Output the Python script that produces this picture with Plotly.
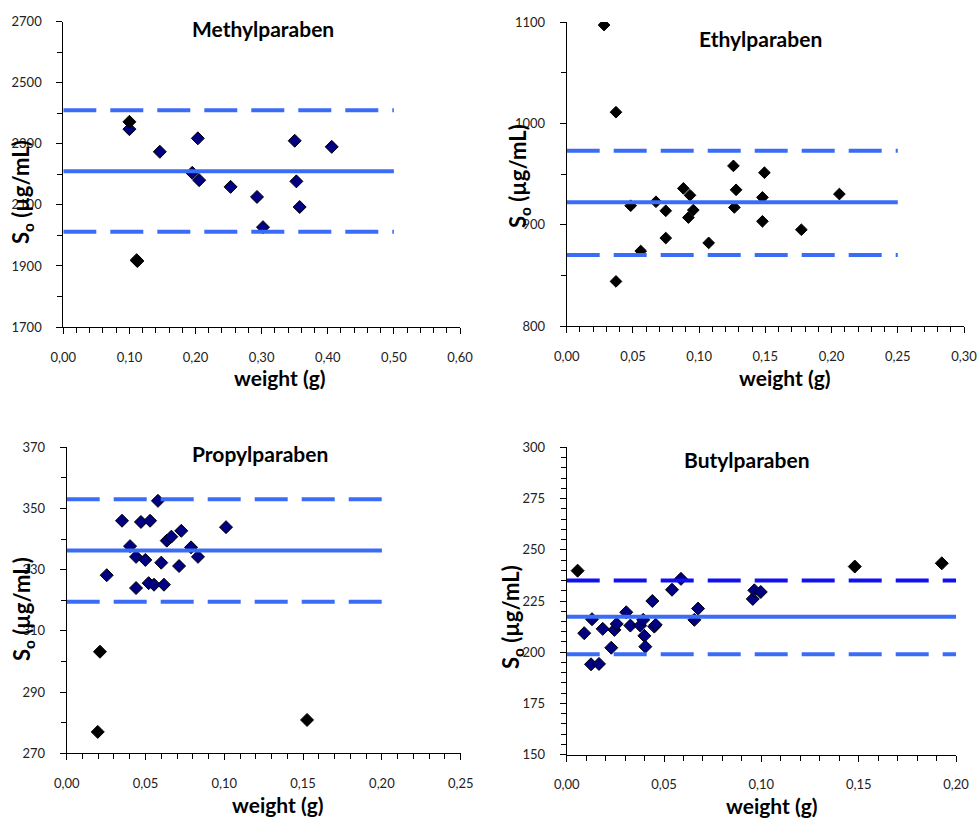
import plotly.graph_objects as go

W, H = 979, 818

# ---------------- data ----------------
# Methylparaben
methyl_x = [0.100, 0.146, 0.2035, 0.195, 0.2055, 0.253, 0.293, 0.302, 0.350, 0.3525, 0.3575, 0.406]
methyl_y = [2348, 2274, 2318, 2205, 2181, 2159, 2126, 2027, 2310, 2177, 2093, 2290]
methyl_out_x = [0.100, 0.111, 0.112]
methyl_out_y = [2372, 1919, 1916]
methyl_lines = [2410, 2210, 2012]      # upper limit, mean, lower limit
methyl_line_x = [0.0, 0.50]

# Ethylparaben
ethyl_x = [0.0282, 0.0372, 0.0372, 0.0483, 0.0559, 0.0674, 0.0748, 0.0748, 0.0881, 0.0931,
           0.0919, 0.0956, 0.1072, 0.1259, 0.1279, 0.1266, 0.1493, 0.1478, 0.1478, 0.1772, 0.2059]
ethyl_y = [1097, 1011, 844, 918.7, 874, 922.6, 913.7, 886.8, 935.8, 929,
           907, 914.4, 882, 958, 934.4, 917, 951.3, 926.9, 903.3, 895, 930.2]
ethyl_lines = [973, 922, 870]
ethyl_line_x = [0.0, 0.25]

# Propylparaben
propyl_x = [0.0254, 0.0351, 0.0402, 0.0440, 0.0440, 0.0471, 0.0499, 0.0529, 0.0520, 0.0554,
            0.0579, 0.0600, 0.0617, 0.0635, 0.0664, 0.0713, 0.0727, 0.0789, 0.0833, 0.1011]
propyl_y = [328.2, 346.0, 337.7, 334.2, 324.0, 345.6, 333.2, 346.0, 325.6, 325.1,
            352.5, 332.3, 325.1, 339.5, 340.8, 331.2, 342.7, 337.3, 334.2, 343.9]
propyl_out_x = [0.0211, 0.0197, 0.1525]
propyl_out_y = [303.2, 277.0, 280.9]
propyl_lines = [353, 336.3, 319.5]
propyl_line_x = [0.0, 0.20]

# Butylparaben
butyl_x = [0.0090, 0.0125, 0.0130, 0.0166, 0.0185, 0.0229, 0.0245, 0.0257, 0.0306, 0.0327,
           0.0378, 0.0393, 0.0399, 0.0404, 0.0440, 0.0450, 0.0457, 0.0541, 0.0587, 0.0656,
           0.0675, 0.0956, 0.0964, 0.0997]
butyl_y = [209.3, 194.1, 216.1, 194.3, 211.4, 202.2, 210.9, 213.8, 219.5, 213.0,
           213.0, 215.8, 208.0, 202.7, 225.0, 212.5, 213.4, 230.5, 235.8, 215.8,
           221.3, 226.0, 230.2, 229.4]
butyl_out_x = [0.0056, 0.148, 0.1927]
butyl_out_y = [239.8, 241.8, 243.4]
butyl_lines = [235, 217.3, 199]
butyl_line_x = [0.0, 0.20]

titles = ["Methylparaben", "Ethylparaben", "Propylparaben", "Butylparaben"]

# ---------------- styling ----------------
NAVY = "#000080"
BLACK = "#000000"
LINE_BLUE = "#3a6cf8"
DARK_BLUE = "#1010f0"
FONT = "Lato"

fig = go.Figure()


def add_points(x, y, color, ax, size=10):
    fig.add_trace(go.Scatter(
        x=x, y=y, mode="markers", xaxis="x" + ax, yaxis="y" + ax,
        marker=dict(symbol="diamond", size=size, color=color,
                    line=dict(color=BLACK, width=1)),
        showlegend=False, hoverinfo="x+y"))


def add_lines(xr, vals, ax, upper_color=LINE_BLUE):
    up, mean, low = vals
    fig.add_trace(go.Scatter(x=xr, y=[up, up], mode="lines", xaxis="x" + ax, yaxis="y" + ax,
                             line=dict(color=upper_color, width=4, dash="33px,14px"),
                             showlegend=False, hoverinfo="skip"))
    fig.add_trace(go.Scatter(x=xr, y=[mean, mean], mode="lines", xaxis="x" + ax, yaxis="y" + ax,
                             line=dict(color=LINE_BLUE, width=4),
                             showlegend=False, hoverinfo="skip"))
    fig.add_trace(go.Scatter(x=xr, y=[low, low], mode="lines", xaxis="x" + ax, yaxis="y" + ax,
                             line=dict(color=LINE_BLUE, width=4, dash="33px,14px"),
                             showlegend=False, hoverinfo="skip"))


# panel 1
add_points(methyl_x, methyl_y, NAVY, "")
add_points(methyl_out_x, methyl_out_y, BLACK, "")
add_lines(methyl_line_x, methyl_lines, "")
# panel 2
add_points(ethyl_x, ethyl_y, BLACK, "2", size=9)
add_lines(ethyl_line_x, ethyl_lines, "2")
# panel 3
add_points(propyl_x, propyl_y, NAVY, "3")
add_points(propyl_out_x, propyl_out_y, BLACK, "3")
add_lines(propyl_line_x, propyl_lines, "3")
# panel 4
add_points(butyl_x, butyl_y, NAVY, "4")
add_points(butyl_out_x, butyl_out_y, BLACK, "4")
add_lines(butyl_line_x, butyl_lines, "4", upper_color=DARK_BLUE)


def px_x(p):
    return p / W


def px_y(p):
    return 1 - p / H


# pixel boxes of the four plot areas: (left, right, top, bottom)
boxes = [(63.3, 460.0, 21.7, 327.0),
         (566.7, 964.0, 22.0, 326.0),
         (66.7, 460.7, 447.3, 753.3),
         (566.7, 956.0, 447.3, 754.7)]
xranges = [[0, 0.6], [0, 0.3], [0, 0.25], [0, 0.2]]
xdt = [0.1, 0.05, 0.05, 0.05]
xminor = [0.02, 0.01, 0.01, 0.01]
yranges = [[1700, 2700], [800, 1100], [270, 370], [150, 300]]
ydt = [200, 100, 20, 25]
yminor = [100, 50, 10, 5]

tickfont = dict(family=FONT, size=13, color="#222222")

layout = dict(
    width=W, height=H,
    margin=dict(l=0, r=0, t=0, b=0, autoexpand=False),
    paper_bgcolor="white", plot_bgcolor="white",
    separators=", ",
    showlegend=False,
    annotations=[],
)

for i in range(4):
    s = "" if i == 0 else str(i + 1)
    l, r, t, b = boxes[i]
    layout["xaxis" + s] = dict(
        domain=[px_x(l), px_x(r)], range=xranges[i], dtick=xdt[i], tick0=xranges[i][0],
        tickformat=".2f", anchor="y" + s, automargin=False,
        showline=True, linecolor="black", linewidth=1,
        ticks="outside", ticklen=6, tickcolor="black", tickwidth=1,
        minor=dict(dtick=xminor[i], tick0=xranges[i][0], ticks="outside", ticklen=5,
                   tickcolor="black"),
        showgrid=False, zeroline=False, tickfont=tickfont, ticklabelstandoff=12,
        fixedrange=True,
    )
    layout["yaxis" + s] = dict(
        domain=[px_y(b), px_y(t)], range=yranges[i], dtick=ydt[i], tick0=yranges[i][0],
        anchor="x" + s, automargin=False,
        showline=True, linecolor="black", linewidth=1,
        ticks="outside", ticklen=6, tickcolor="black", tickwidth=1,
        minor=dict(dtick=yminor[i], tick0=yranges[i][0], ticks="outside", ticklen=5,
                   tickcolor="black"),
        showgrid=False, zeroline=False, tickfont=tickfont, ticklabelstandoff=12,
        fixedrange=True,
    )

# titles (center px)
title_pos = [(263, 28), (760, 39), (260, 453), (747, 459)]
xlab_pos = [(280, 377), (785, 377), (278, 804), (772, 805)]
ylab_pos = [(22, 192), (519, 176), (23, 609), (512, 617)]

for i in range(4):
    tx, ty = title_pos[i]
    layout["annotations"].append(dict(
        text="<b>" + titles[i] + "</b>", x=px_x(tx), y=px_y(ty), xref="paper", yref="paper",
        xanchor="center", yanchor="middle", showarrow=False,
        font=dict(family=FONT, size=21, color="black")))
    lx, ly = xlab_pos[i]
    layout["annotations"].append(dict(
        text="<b>weight (g)</b>", x=px_x(lx), y=px_y(ly), xref="paper", yref="paper",
        xanchor="center", yanchor="middle", showarrow=False,
        font=dict(family=FONT, size=21, color="black")))
    yx, yy = ylab_pos[i]
    layout["annotations"].append(dict(
        text="<b>S<sub>o</sub> (µg/mL)</b>", x=px_x(yx), y=px_y(yy), xref="paper", yref="paper",
        xanchor="center", yanchor="middle", showarrow=False, textangle=-90,
        font=dict(family=FONT, size=22, color="black")))

fig.update_layout(**layout)
fig.write_html("out.html")
